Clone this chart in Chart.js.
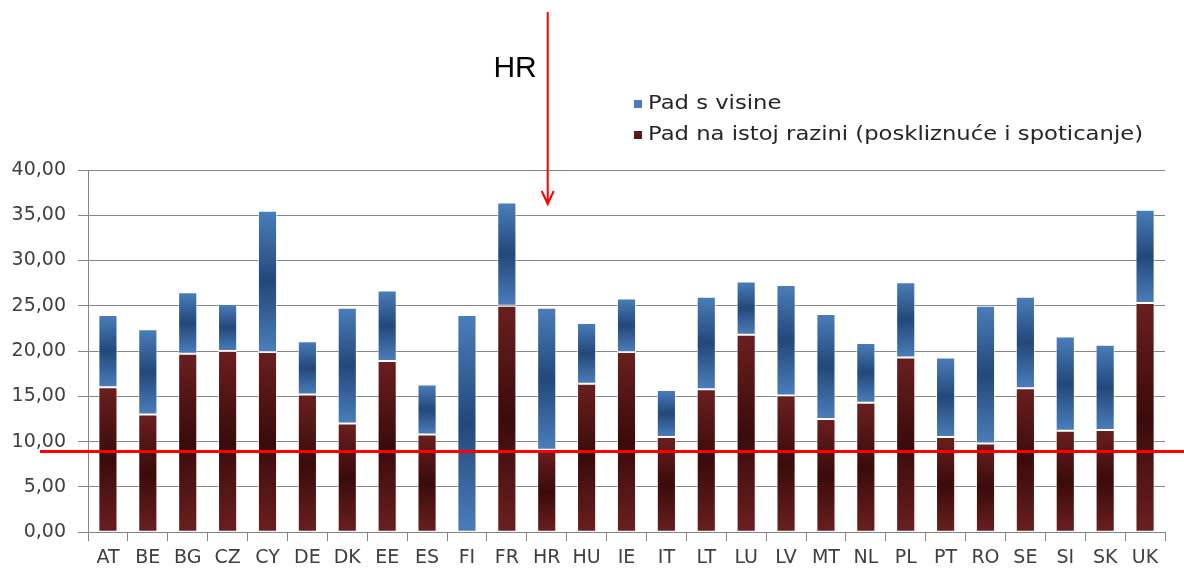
<!DOCTYPE html>
<html lang="hr">
<head>
  <meta charset="UTF-8" />
  <title>Pad s visine / Pad na istoj razini</title>
  <script src="https://cdn.jsdelivr.net/npm/chart.js"></script>
  <style>
    body { margin: 0; background: #fff; }
    #wrap { width: 1184px; height: 572px; }
  </style>
</head>
<body>
  <div id="wrap"><canvas id="chart"></canvas></div>
  <script>
    // podaci (očitano s grafa)
    const categories = ['AT','BE','BG','CZ','CY','DE','DK','EE','ES','FI','FR','HR','HU','IE','IT','LT','LU','LV','MT','NL','PL','PT','RO','SE','SI','SK','UK'];
    const padNaIstojRazini = [16.0,13.0,19.7,20.0,19.9,15.2,12.0,18.9,10.8,0.0,25.0,9.1,16.4,19.9,10.5,15.8,21.8,15.1,12.5,14.3,19.3,10.5,9.8,15.9,11.2,11.3,25.3];
    const padSVisine = [8.0,9.4,6.8,5.2,15.6,5.9,12.8,7.8,5.5,24.0,11.4,15.7,6.7,5.9,5.2,10.2,5.9,12.2,11.6,6.6,8.3,8.8,15.2,10.1,10.4,9.4,10.3];
    const seriesNames = ['Pad s visine', 'Pad na istoj razini (poskliznuće i spoticanje)'];
    const referenceLevel = 8.9;
    const highlighted = 'HR';

    const FONT = '"DejaVu Sans", sans-serif';

    function segmentGradient(ctx, lo, hi, edge, mid) {
      const chart = ctx.chart;
      const y = chart.scales && chart.scales.y;
      if (!y || ctx.type !== 'data') return edge;
      const i = ctx.dataIndex;
      const top = y.getPixelForValue(hi(i));
      const bot = y.getPixelForValue(lo(i));
      if (!isFinite(top) || !isFinite(bot) || Math.abs(top - bot) < 1) return edge;
      const g = chart.ctx.createLinearGradient(0, top, 0, bot);
      g.addColorStop(0, edge);
      g.addColorStop(0.5, mid);
      g.addColorStop(1, edge);
      return g;
    }

    const overlay = {
      id: 'overlay',
      afterDatasetsDraw(chart) {
        const c = chart.ctx;
        const x = chart.scales.x;
        const y = chart.scales.y;
        c.save();
        // crvena referentna linija
        const ly = y.getPixelForValue(referenceLevel);
        c.strokeStyle = '#ff0000';
        c.lineWidth = 3;
        c.beginPath();
        c.moveTo(40, ly);
        c.lineTo(chart.width, ly);
        c.stroke();

        // strelica prema HR
        const ax = x.getPixelForValue(categories.indexOf(highlighted)) + 1;
        c.lineWidth = 2;
        c.beginPath();
        c.moveTo(ax, 12);
        c.lineTo(ax, 204);
        c.moveTo(ax - 6, 191);
        c.lineTo(ax, 204);
        c.lineTo(ax + 6, 191);
        c.stroke();
        c.fillStyle = '#000';
        c.font = '30px "Liberation Sans", Arial, sans-serif';
        c.textAlign = 'right';
        c.textBaseline = 'middle';
        c.fillText(highlighted, ax - 11, 69);

        // legenda
        c.font = '20px ' + FONT;
        c.textAlign = 'left';
        const stretch = 495 / c.measureText(seriesNames[1]).width;
        const items = [
          { name: seriesNames[0], color: '#4a7ebb', y: 104 },
          { name: seriesNames[1], color: '#5a1a1a', y: 135 }
        ];
        items.forEach(it => {
          c.fillStyle = it.color;
          c.fillRect(634, it.y - 4, 8, 8);
          c.save();
          c.translate(648, it.y);
          c.scale(stretch, 1);
          c.fillStyle = '#262626';
          c.fillText(it.name, 0, 0);
          c.restore();
        });
        c.restore();
      }
    };

    new Chart(document.getElementById('chart'), {
      type: 'bar',
      data: {
        labels: categories,
        datasets: [
          {
            label: seriesNames[1],
            data: padNaIstojRazini,
            backgroundColor: ctx => segmentGradient(ctx, () => 0, i => padNaIstojRazini[i], '#6b1f1f', '#3a0b0b'),
            borderColor: 'rgba(255,255,255,0.7)',
            borderWidth: 1,
            borderSkipped: false,
            categoryPercentage: 1,
            barPercentage: 0.48
          },
          {
            label: seriesNames[0],
            data: padSVisine,
            backgroundColor: ctx => segmentGradient(ctx, i => padNaIstojRazini[i], i => padNaIstojRazini[i] + padSVisine[i], '#4a7ebb', '#23487a'),
            borderColor: 'rgba(255,255,255,0.7)',
            borderWidth: 1,
            borderSkipped: false,
            categoryPercentage: 1,
            barPercentage: 0.48
          }
        ]
      },
      options: {
        responsive: true,
        maintainAspectRatio: false,
        animation: false,
        layout: { padding: { top: 170, right: 19, left: 0, bottom: -2 } },
        plugins: {
          legend: { display: false },
          tooltip: { enabled: false }
        },
        scales: {
          x: {
            stacked: true,
            offset: true,
            grid: {
              offset: true,
              drawOnChartArea: false,
              drawTicks: true,
              tickLength: 9,
              color: '#858585'
            },
            border: { display: true, color: '#858585' },
            ticks: {
              color: '#404040',
              font: { size: 19, family: FONT },
              padding: 5,
              maxRotation: 0,
              autoSkip: false
            }
          },
          y: {
            stacked: true,
            min: 0,
            max: 40,
            afterFit: s => { s.width = 88; },
            grid: {
              color: '#858585',
              tickLength: 10
            },
            border: { display: true, color: '#858585' },
            ticks: {
              stepSize: 5,
              color: '#404040',
              font: { size: 19, family: FONT },
              padding: 12,
              callback: v => v.toFixed(2).replace('.', ',')
            }
          }
        }
      },
      plugins: [overlay]
    });
  </script>
</body>
</html>
